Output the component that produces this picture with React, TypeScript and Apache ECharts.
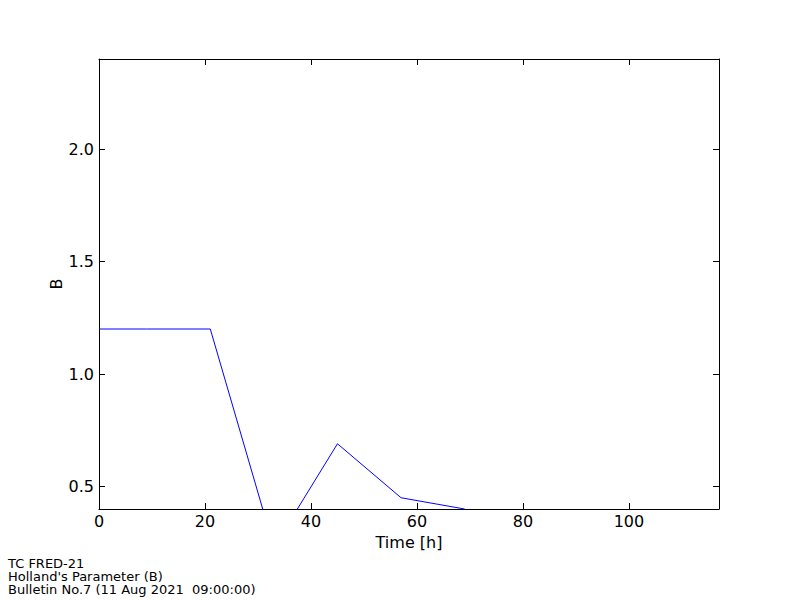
import React, { useEffect, useRef } from "react";
import * as echarts from "echarts";

const times = [0, 9, 21, 33, 45, 57, 69];
const bValues = [1.2, 1.2, 1.2, 0.23, 0.69, 0.45, 0.4];
const xTicks = [0, 20, 40, 60, 80, 100];
const yTicks = [0.5, 1.0, 1.5, 2.0];
const footerLines = ["TC FRED-21", "Holland's Parameter (B)", "Bulletin No.7 (11 Aug 2021  09:00:00)"];

const FONT = "DejaVu Sans";

export default function App() {
  const ref = useRef<HTMLDivElement>(null);
  useEffect(() => {
    if (!ref.current) return;
    const chart = echarts.init(ref.current, undefined, { renderer: "svg" });
    const axisLine = { show: true, onZero: false, lineStyle: { color: "#000", width: 1 } };
    const tickX = { show: true, inside: true, length: 6, customValues: xTicks, lineStyle: { color: "#000", width: 1 } };
    const tickY = { show: true, inside: true, length: 6, customValues: yTicks, lineStyle: { color: "#000", width: 1 } };
    chart.setOption({
      animation: false,
      backgroundColor: "#fff",
      grid: { left: 99, top: 59, width: 620, height: 450, containLabel: false },
      xAxis: [
        {
          type: "value",
          min: 0,
          max: 117,
          position: "bottom",
          name: "Time [h]",
          nameLocation: "middle",
          nameGap: 25,
          nameMoveOverlap: false,
          nameTextStyle: { fontFamily: FONT, fontSize: 16, color: "#000" },
          axisLine,
          axisTick: tickX,
          axisLabel: { customValues: xTicks, fontFamily: FONT, fontSize: 16, color: "#000", margin: 4 },
          splitLine: { show: false },
        },
        {
          type: "value",
          min: 0,
          max: 117,
          position: "top",
          axisLine,
          axisTick: tickX,
          axisLabel: { show: false },
          splitLine: { show: false },
        },
      ],
      yAxis: [
        {
          type: "value",
          min: 0.4,
          max: 2.4,
          position: "left",
          name: "B",
          nameLocation: "middle",
          nameGap: 35,
          nameMoveOverlap: false,
          nameTextStyle: { fontFamily: FONT, fontSize: 16, color: "#000" },
          axisLine,
          axisTick: tickY,
          axisLabel: {
            customValues: yTicks,
            fontFamily: FONT,
            fontSize: 16,
            color: "#000",
            margin: 5,
            formatter: (v: number) => v.toFixed(1),
          },
          splitLine: { show: false },
        },
        {
          type: "value",
          min: 0.4,
          max: 2.4,
          position: "right",
          axisLine,
          axisTick: tickY,
          axisLabel: { show: false },
          splitLine: { show: false },
        },
      ],
      series: [
        {
          type: "line",
          data: times.map((t, i) => [t, bValues[i]]),
          xAxisIndex: 0,
          yAxisIndex: 0,
          showSymbol: false,
          symbol: "none",
          clip: true,
          lineStyle: { color: "#0000ff", width: 1 },
          z: 1,
        },
      ],
      graphic: [
        {
          type: "text",
          left: 8,
          top: 557,
          style: {
            text: footerLines.join("\n"),
            fontFamily: FONT,
            fontSize: 13,
            lineHeight: 13,
            fill: "#000",
          },
        },
      ],
    });
    return () => chart.dispose();
  }, []);
  return <div ref={ref} style={{ width: 800, height: 600, position: "absolute", left: 0, top: 0 }} />;
}
